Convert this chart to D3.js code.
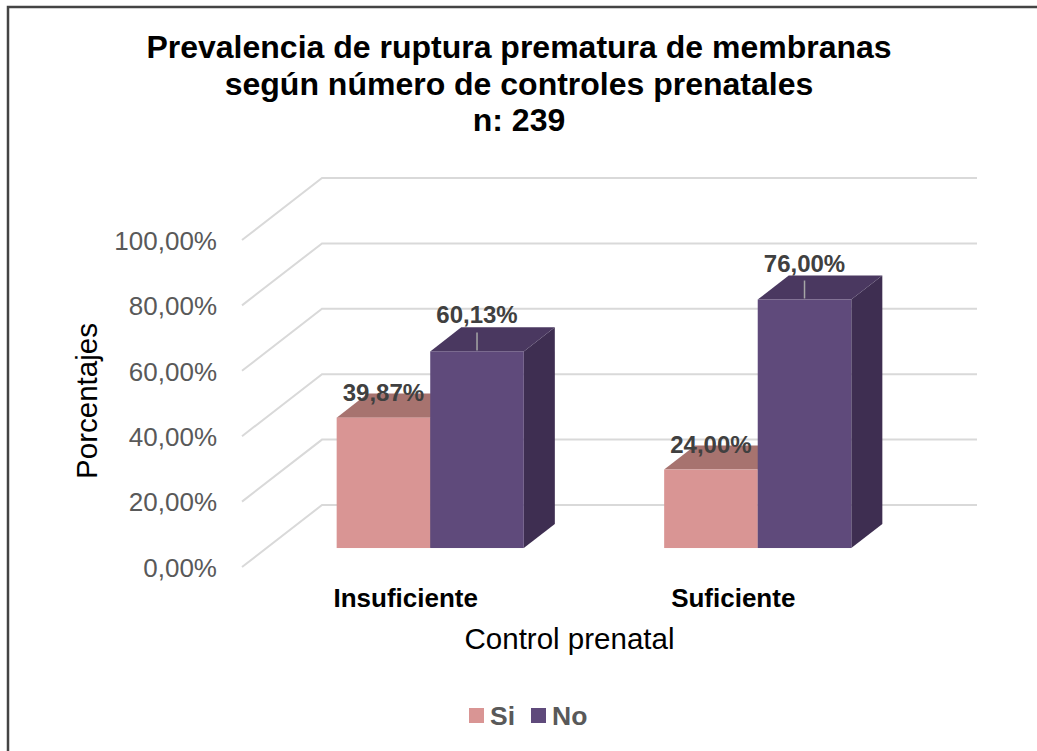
<!DOCTYPE html>
<html>
<head>
<meta charset="utf-8">
<script src="https://cdn.jsdelivr.net/npm/d3@7"></script>
<style>
  body { margin: 0; background: #fff; }
  svg { display: block; font-family: "Liberation Sans", Arial, sans-serif; }
</style>
</head>
<body>
<svg id="chart" width="1037" height="751"></svg>
<script>
// data
const categories = ['Insuficiente', 'Suficiente'];
const series = ['Si', 'No'];
const siValues = [39.87, 24.00];
const noValues = [60.13, 76.00];
const yTicks = [0, 20, 40, 60, 80, 100];

const W = 1037, H = 751;
// depth of the 3d box (front plane -> back wall)
const DX = 80, DY = -62;
// bars sit in the middle of the depth
const zFront = 0.306, zBack = 0.694;

const colors = {
  Si: {front: '#D99594', top: '#A7736F', side: '#9C6461'},
  No: {front: '#5F4A7B', top: '#4A3860', side: '#3E2E51'}
};

const svg = d3.select('#chart');

// outer frame (only top + left visible in the original)
svg.append('path')
  .attr('d', `M8,${H} V7 H${W}`)
  .attr('fill', 'none')
  .attr('stroke', '#444')
  .attr('stroke-width', 2.5);

// scales on the front plane
const x0 = d3.scaleBand()
  .domain(categories)
  .range([242, 897]);

const x1 = d3.scaleBand()
  .domain(series)
  .range([0, x0.bandwidth()])
  .paddingOuter(0.75);

const y = d3.scaleLinear()
  .domain([0, 100])
  .range([567, 240]);

// project a point (front-plane x, value, depth z)
const px = (x, z) => x + z * DX;
const py = (v, z) => y(v) + z * DY;

// gridlines: diagonal on the side wall + line on the back wall
const grid = svg.append('g').attr('class', 'grid')
  .attr('fill', 'none')
  .attr('stroke', '#D9D9D9')
  .attr('stroke-width', 2);

grid.selectAll('path')
  .data(yTicks)
  .enter()
  .append('path')
  .attr('d', d => `M${px(x0.range()[0], 0)},${py(d, 0)} L${px(x0.range()[0], 1)},${py(d, 1)} L${px(x0.range()[1], 1)},${py(d, 1)}`);

// y tick labels
svg.append('g')
  .selectAll('text')
  .data(yTicks)
  .enter()
  .append('text')
  .attr('x', 217)
  .attr('y', d => y(d))
  .attr('dy', '0.38em')
  .attr('text-anchor', 'end')
  .attr('font-size', 26)
  .attr('fill', '#595959')
  .text(d => d3.format('.2f')(d).replace('.', ',') + '%');

// y axis title
svg.append('text')
  .attr('transform', 'translate(97,401) rotate(-90)')
  .attr('text-anchor', 'middle')
  .attr('font-size', 29.5)
  .attr('fill', '#000')
  .text('Porcentajes');

// bars
const barData = [];
categories.forEach((c, i) => {
  barData.push({cat: c, key: 'Si', value: siValues[i]});
  barData.push({cat: c, key: 'No', value: noValues[i]});
});

const bars = svg.append('g').attr('class', 'bars');

barData.forEach(d => {
  const xl = x0(d.cat) + x1(d.key);
  const xr = xl + x1.bandwidth();
  const g = bars.append('g');
  const c = colors[d.key];
  // side face
  g.append('path')
    .attr('d', `M${px(xr, zFront)},${py(d.value, zFront)} L${px(xr, zBack)},${py(d.value, zBack)} L${px(xr, zBack)},${py(0, zBack)} L${px(xr, zFront)},${py(0, zFront)} Z`)
    .attr('fill', c.side);
  // top face
  g.append('path')
    .attr('d', `M${px(xl, zFront)},${py(d.value, zFront)} L${px(xl, zBack)},${py(d.value, zBack)} L${px(xr, zBack)},${py(d.value, zBack)} L${px(xr, zFront)},${py(d.value, zFront)} Z`)
    .attr('fill', c.top);
  // front face
  g.append('rect')
    .attr('x', px(xl, zFront))
    .attr('y', py(d.value, zFront))
    .attr('width', x1.bandwidth())
    .attr('height', py(0, zFront) - py(d.value, zFront))
    .attr('fill', c.front);
});

// data labels (with leader line for the taller series)
const labelOffset = {Si: 17, No: 28};
barData.forEach(d => {
  const cx = px(x0(d.cat) + x1(d.key) + x1.bandwidth() / 2, zFront);
  const topY = py(d.value, zFront);
  const by = topY - labelOffset[d.key];
  if (d.key === 'No') {
    svg.append('line')
      .attr('x1', cx).attr('x2', cx)
      .attr('y1', by + 9).attr('y2', topY - 1)
      .attr('stroke', '#A6A6A6')
      .attr('stroke-width', 1.5);
  }
  svg.append('text')
    .attr('x', cx)
    .attr('y', by)
    .attr('text-anchor', 'middle')
    .attr('font-size', 24)
    .attr('font-weight', 'bold')
    .attr('fill', '#404040')
    .text(d3.format('.2f')(d.value).replace('.', ',') + '%');
});

// category labels
svg.append('g')
  .selectAll('text')
  .data(categories)
  .enter()
  .append('text')
  .attr('x', d => x0(d) + x0.bandwidth() / 2)
  .attr('y', 607)
  .attr('text-anchor', 'middle')
  .attr('font-size', 26)
  .attr('font-weight', 'bold')
  .attr('fill', '#000')
  .text(d => d);

// x axis title
svg.append('text')
  .attr('x', (x0.range()[0] + x0.range()[1]) / 2)
  .attr('y', 649)
  .attr('text-anchor', 'middle')
  .attr('font-size', 29.5)
  .attr('fill', '#000')
  .text('Control prenatal');

// title
const titleLines = [
  'Prevalencia de ruptura prematura de membranas',
  'según número de controles prenatales',
  'n: 239'
];
svg.append('g')
  .selectAll('text')
  .data(titleLines)
  .enter()
  .append('text')
  .attr('x', 519)
  .attr('y', (d, i) => 58 + i * 36.5)
  .attr('text-anchor', 'middle')
  .attr('font-size', 32)
  .attr('font-weight', 'bold')
  .attr('fill', '#000')
  .text(d => d);

// legend
const legend = svg.append('g').attr('transform', 'translate(469,708)');
const legendX = [0, 62];
series.forEach((s, i) => {
  legend.append('rect')
    .attr('x', legendX[i])
    .attr('y', 0)
    .attr('width', 15)
    .attr('height', 15)
    .attr('fill', colors[s].front);
  legend.append('text')
    .attr('x', legendX[i] + 21)
    .attr('y', 17)
    .attr('font-size', 26.5)
    .attr('font-weight', 'bold')
    .attr('fill', '#595959')
    .text(s);
});
</script>
</body>
</html>
